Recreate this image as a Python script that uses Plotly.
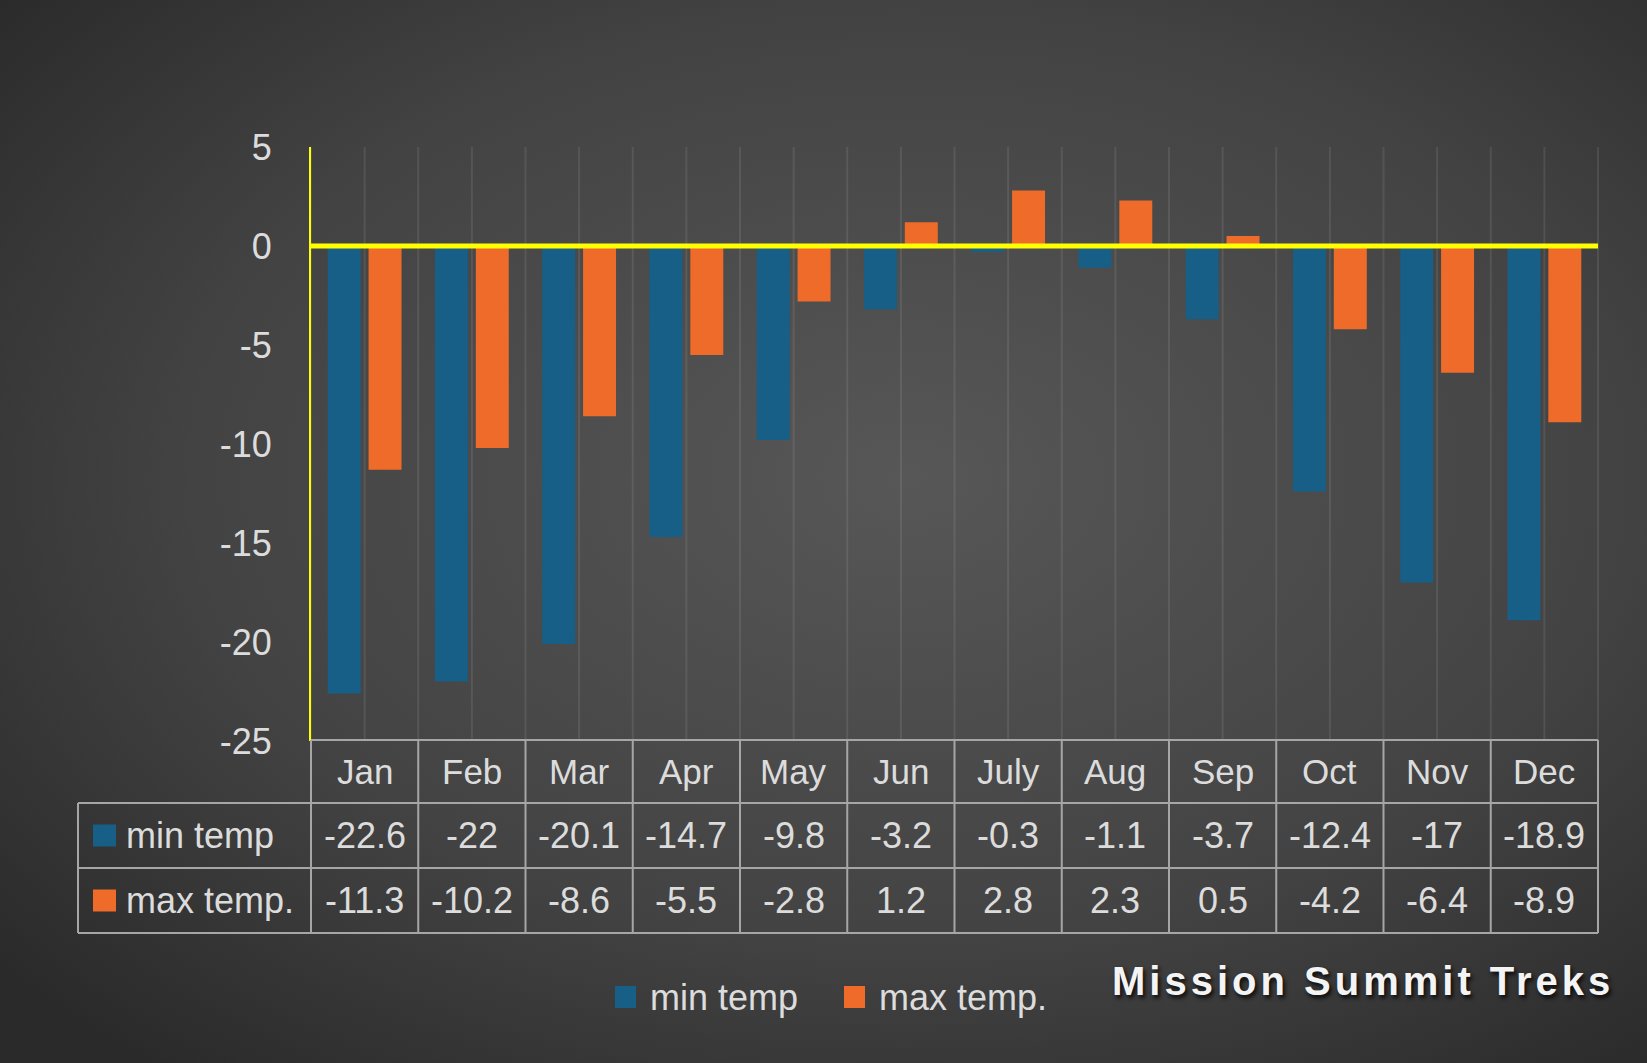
import base64
import plotly.graph_objects as go

# ---------------- data ----------------
months = ["Jan", "Feb", "Mar", "Apr", "May", "Jun", "July", "Aug", "Sep", "Oct", "Nov", "Dec"]
min_temp = [-22.6, -22, -20.1, -14.7, -9.8, -3.2, -0.3, -1.1, -3.7, -12.4, -17, -18.9]
max_temp = [-11.3, -10.2, -8.6, -5.5, -2.8, 1.2, 2.8, 2.3, 0.5, -4.2, -6.4, -8.9]
series_names = ["min temp", "max temp."]
y_ticks = [-25, -20, -15, -10, -5, 0, 5]
brand = "Mission Summit Treks"

# ---------------- style ----------------
W, H = 1647, 1063
ML, MR, MT, MB = 311, 49, 147, 322
PW, PH = W - ML - MR, H - MT - MB
BLUE = "#175f86"
ORANGE = "#ee6b2a"
TXT = "#dcdcdc"
GRID = "rgba(255,255,255,0.09)"
TBL = "#a6a6a6"
FONT = "Liberation Sans"


def px_x(px):
    return (px - ML) / PW


def px_y(py):
    return (H - MB - py) / PH


fig = go.Figure()
colors = [BLUE, ORANGE]
for name, vals, col in zip(series_names, [min_temp, max_temp], colors):
    fig.add_trace(go.Bar(x=months, y=vals, name=name, marker=dict(color=col, line=dict(width=0)),
                         showlegend=False))

shapes = []
n = len(months)
# vertical gridlines at boundaries and centres
for k in range(2 * n + 1):
    shapes.append(dict(type="line", xref="paper", yref="paper", x0=k / (2 * n), x1=k / (2 * n),
                       y0=0, y1=1, line=dict(color=GRID, width=2), layer="below"))
# zero line
shapes.append(dict(type="line", xref="paper", yref="y", x0=0, x1=1, y0=0, y1=0,
                   line=dict(color="#ffff00", width=5), layer="above"))

# ---------------- table ----------------
row_tops = [740, 803, 868, 933]
ry = [px_y(v) for v in row_tops]
left_px = 78
lx = px_x(left_px)
# horizontal lines
shapes.append(dict(type="line", xref="paper", yref="paper", x0=0, x1=1, y0=ry[0], y1=ry[0],
                   line=dict(color=TBL, width=2)))
for yy in ry[1:]:
    shapes.append(dict(type="line", xref="paper", yref="paper", x0=lx, x1=1, y0=yy, y1=yy,
                       line=dict(color=TBL, width=2)))
# vertical lines
for k in range(n + 1):
    shapes.append(dict(type="line", xref="paper", yref="paper", x0=k / n, x1=k / n, y0=ry[0], y1=ry[3],
                       line=dict(color=TBL, width=2)))
shapes.append(dict(type="line", xref="paper", yref="paper", x0=lx, x1=lx, y0=ry[1], y1=ry[3],
                   line=dict(color=TBL, width=2)))

annotations = []
for i, m in enumerate(months):
    cx = (i + 0.5) / n
    annotations.append(dict(x=cx, y=(ry[0] + ry[1]) / 2, xref="paper", yref="paper", text=m,
                            showarrow=False, font=dict(family=FONT, size=35, color=TXT),
                            xanchor="center", yanchor="middle"))
    for r, vals in enumerate([min_temp, max_temp]):
        annotations.append(dict(x=cx, y=(ry[r + 1] + ry[r + 2]) / 2, xref="paper", yref="paper",
                                text=f"{vals[i]:g}", showarrow=False,
                                font=dict(family=FONT, size=36, color=TXT),
                                xanchor="center", yanchor="middle"))

# row labels with swatches
for r, (name, col) in enumerate(zip(series_names, colors)):
    cy_px = (row_tops[r + 1] + row_tops[r + 2]) / 2
    shapes.append(dict(type="rect", xref="paper", yref="paper", x0=px_x(93), x1=px_x(116),
                       y0=px_y(cy_px - 11), y1=px_y(cy_px + 11), fillcolor=col, line=dict(width=0)))
    annotations.append(dict(x=px_x(124), y=px_y(cy_px), xref="paper", yref="paper", text=name,
                            showarrow=False, font=dict(family=FONT, size=36, color=TXT),
                            xanchor="left", yanchor="middle"))

# bottom legend
leg_items = [(615, 648), (844, 877)]
for (sx, tx), name, col in zip(leg_items, series_names, colors):
    cy_px = 997
    shapes.append(dict(type="rect", xref="paper", yref="paper", x0=px_x(sx), x1=px_x(sx + 21),
                       y0=px_y(cy_px - 11), y1=px_y(cy_px + 11), fillcolor=col, line=dict(width=0)))
    annotations.append(dict(x=px_x(tx), y=px_y(cy_px), xref="paper", yref="paper", text=name,
                            showarrow=False, font=dict(family=FONT, size=36, color=TXT),
                            xanchor="left", yanchor="middle"))

# brand
annotations.append(dict(x=px_x(1110), y=px_y(981), xref="paper", yref="paper",
                        text=f"<span style='letter-spacing:4px'><b>{brand}</b></span>",
                        showarrow=False, xanchor="left", yanchor="middle",
                        font=dict(family=FONT, size=40, color="#f4f4f4",
                                  shadow="2px 3px 4px rgba(0,0,0,0.85)")))

# background gradient
svg = (f"<svg xmlns='http://www.w3.org/2000/svg' width='{W}' height='{H}' viewBox='0 0 {W} {H}' "
       "preserveAspectRatio='none'><defs><radialGradient id='g' cx='0.55' cy='0.45' r='0.72'>"
       "<stop offset='0' stop-color='#575757'/><stop offset='0.6' stop-color='#434343'/>"
       "<stop offset='1' stop-color='#2a2a2a'/></radialGradient></defs>"
       f"<rect width='{W}' height='{H}' fill='url(#g)'/></svg>")
bg_src = "data:image/svg+xml;base64," + base64.b64encode(svg.encode()).decode()

fig.update_layout(
    width=W, height=H,
    margin=dict(l=ML, r=MR, t=MT, b=MB, pad=0),
    paper_bgcolor="#3c3c3c",
    plot_bgcolor="rgba(0,0,0,0)",
    barmode="group",
    bargap=0.238,
    bargroupgap=0.193,
    shapes=shapes,
    annotations=annotations,
    images=[dict(source=bg_src, xref="paper", yref="paper", x=px_x(0), y=px_y(0),
                 sizex=W / PW, sizey=H / PH, xanchor="left", yanchor="top",
                 sizing="stretch", layer="below")],
    xaxis=dict(showticklabels=False, showgrid=False, zeroline=False, showline=False, ticks=""),
    yaxis=dict(range=[-25, 5], tickvals=y_ticks, ticktext=[str(v) for v in y_ticks],
               showgrid=False, zeroline=False, showline=True, linecolor="#ffff00", linewidth=2,
               ticks="", ticklabelstandoff=30,
               tickfont=dict(family=FONT, size=36, color=TXT)),
    font=dict(family=FONT, color=TXT),
)

fig.write_html("out.html")
